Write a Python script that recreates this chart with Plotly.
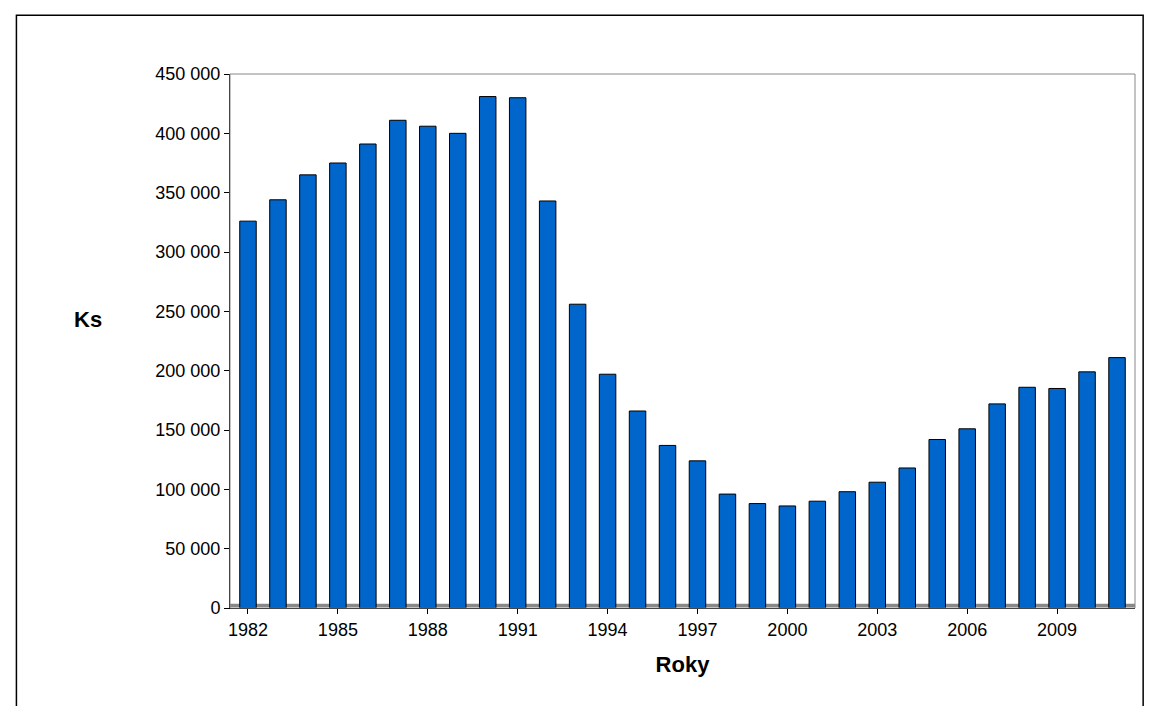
import plotly.graph_objects as go

years = list(range(1982, 2012))
values = [326000, 344000, 365000, 375000, 391000, 411000, 406000, 400000, 431000, 430000,
          343000, 256000, 197000, 166000, 137000, 124000, 96000, 88000, 86000, 90000,
          98000, 106000, 118000, 142000, 151000, 172000, 186000, 185000, 199000, 211000]
tick_years = list(range(1982, 2012, 3))

fig = go.Figure(go.Bar(x=years, y=values, width=0.55,
                       marker=dict(color="#0066CC", line=dict(color="black", width=1))))
fig.update_layout(
    width=1153, height=706, paper_bgcolor="white", plot_bgcolor="white",
    separators=", ", showlegend=False,
    margin=dict(l=222, r=26, t=66, b=106),
    font=dict(family="Liberation Sans, Arial", size=18, color="black"),
    xaxis=dict(tickvals=tick_years, range=[1981.4, 2011.6], ticks="outside",
               tickcolor="black", showline=True, linecolor="black",
               title=dict(text="<b>Roky</b>", font=dict(size=22), standoff=18)),
    yaxis=dict(range=[0, 450000], dtick=50000, tickformat=",d", ticks="outside",
               tickcolor="black", showline=True, linecolor="black",
               showgrid=False),
    annotations=[dict(text="<b>Ks</b>", xref="paper", yref="paper", x=-0.175, y=0.54,
                      showarrow=False, font=dict(size=22))],
    shapes=[dict(type="rect", xref="paper", yref="paper", x0=-0.236, x1=1.009, y0=-0.25, y1=1.11,
                 line=dict(color="black", width=1.5)),
            dict(type="rect", xref="paper", yref="paper", x0=0, x1=1, y0=0, y1=1,
                 line=dict(color="#888", width=1)),
            dict(type="rect", xref="paper", yref="y", x0=0, x1=1, y0=0, y1=3500,
                 fillcolor="#888", line=dict(width=0), layer="below")],
)
fig.write_html("out.html")
